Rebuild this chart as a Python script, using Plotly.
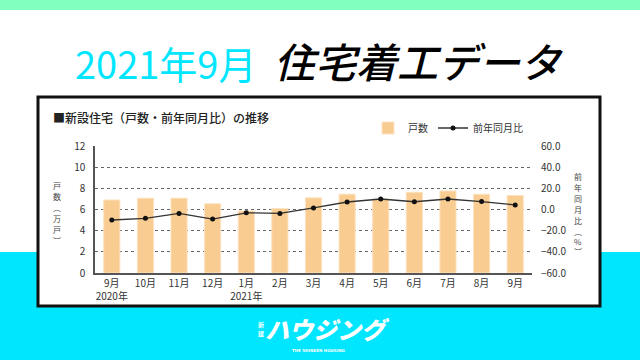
import plotly.graph_objects as go

months = ["9月<br>2020年", "10月", "11月", "12月", "1月<br>2021年", "2月", "3月",
          "4月", "5月", "6月", "7月", "8月", "9月"]
units = [6.9, 7.07, 7.07, 6.54, 5.86, 6.1, 7.1, 7.45, 6.99, 7.63, 7.75, 7.44, 7.32]
yoy = [-9.9, -8.3, -3.7, -9.0, -3.1, -3.7, 1.5, 7.1, 9.9, 7.3, 9.9, 7.5, 4.3]
left_title = ["戸", "数", "︵", "万", "戸", "︶"]
right_title = ["前", "年", "同", "月", "比", "︵", "%", "︶"]

W, H = 640, 360
L, R, T, B = 95, 532, 146, 273
JP = "Noto Sans CJK JP"


def px(x):
    return (x - L) / (R - L)


def py(y):
    return (B - y) / (B - T)


fig = go.Figure()
fig.add_trace(go.Bar(
    x=list(range(len(months))), y=units, name="戸数", yaxis="y",
    marker=dict(color="#F9CC91", line=dict(color="#FCE2C0", width=1)),
))
fig.add_trace(go.Scatter(
    x=list(range(len(months))), y=yoy, name="前年同月比", yaxis="y2",
    mode="lines+markers",
    line=dict(color="#333333", width=1.3),
    marker=dict(color="#111111", size=5),
))

shapes = [
    dict(type="rect", xref="paper", yref="paper", x0=px(0), x1=px(W), y0=py(0), y1=py(10),
         fillcolor="#80FFBF", line=dict(width=0), layer="below"),
    dict(type="rect", xref="paper", yref="paper", x0=px(0), x1=px(W), y0=py(252), y1=py(H),
         fillcolor="#00E6FF", line=dict(width=0), layer="below"),
    dict(type="rect", xref="paper", yref="paper", x0=px(38), x1=px(600), y0=py(97), y1=py(306),
         fillcolor="white", line=dict(color="#111111", width=3), layer="below"),
]

ann = [
    dict(text="2021年9月", x=px(73), y=py(62), xanchor="left", yanchor="middle",
         font=dict(family=JP, size=38, color="#00E6FF")),
    dict(text="住宅着工データ", x=px(272), y=py(60), xanchor="left", yanchor="middle",
         font=dict(family=JP, size=41, color="#000000", style="italic", weight=500)),
    dict(text="■新設住宅（戸数・前年同月比）の推移", x=px(51), y=py(117), xanchor="left", yanchor="middle",
         font=dict(family=JP, size=12, color="#222222", weight=500)),
    dict(text="新", x=px(261), y=py(324), xanchor="center", yanchor="middle",
         font=dict(family=JP, size=6, color="white", weight=700)),
    dict(text="建", x=px(261), y=py(333), xanchor="center", yanchor="middle",
         font=dict(family=JP, size=6, color="white", weight=700)),
    dict(text="ハウジング", x=px(327), y=py(328), xanchor="center", yanchor="middle",
         font=dict(family=JP, size=24, color="white", weight=900, style="italic")),
    dict(text="THE SHINKEN HOUSING", x=px(318), y=py(350), xanchor="center", yanchor="middle",
         font=dict(family="DejaVu Sans", size=4, color="white", weight=700)),
]
for ch, yy in zip(left_title, [185, 196, 207, 218, 229, 240]):
    ann.append(dict(text=ch, x=px(57), y=py(yy), xanchor="center", yanchor="middle",
                    font=dict(family=JP, size=8, color="#444444")))
for ch, yy in zip(right_title, [176, 187, 198, 209, 220, 231, 241, 251]):
    ann.append(dict(text=ch, x=px(578), y=py(yy), xanchor="center", yanchor="middle",
                    font=dict(family=JP, size=8, color="#444444")))
for a in ann:
    a.update(xref="paper", yref="paper", showarrow=False)

fig.update_layout(
    width=W, height=H,
    margin=dict(l=L, r=W - R, t=T, b=H - B, pad=0),
    paper_bgcolor="white", plot_bgcolor="rgba(0,0,0,0)",
    font=dict(family=JP, size=10, color="#333333"),
    shapes=shapes, annotations=ann,
    bargap=0.52, showlegend=True,
    legend=dict(orientation="h", x=px(368), y=py(128), xanchor="left", yanchor="middle",
                font=dict(family=JP, size=10, color="#333333"), bgcolor="rgba(0,0,0,0)",
                itemwidth=30, tracegroupgap=0),
    xaxis=dict(tickmode="array", tickvals=list(range(len(months))), ticktext=months,
               range=[-0.5, len(months) - 0.5], showline=True, linecolor="#555555", linewidth=1.5,
               showgrid=False, zeroline=False, tickfont=dict(size=10, color="#333333")),
    yaxis=dict(range=[0, 12], dtick=2, showline=True, linecolor="#555555", linewidth=1.5,
               showgrid=True, gridcolor="#666666", griddash="dot", gridwidth=1,
               zeroline=False, ticklabelstandoff=6, tickfont=dict(size=10, color="#333333")),
    yaxis2=dict(range=[-60, 60], dtick=20, tickformat=".1f", overlaying="y", side="right",
                showgrid=False, zeroline=False, showline=False, ticklabelstandoff=8,
                tickfont=dict(size=10, color="#333333")),
)

fig.write_html("out.html")
